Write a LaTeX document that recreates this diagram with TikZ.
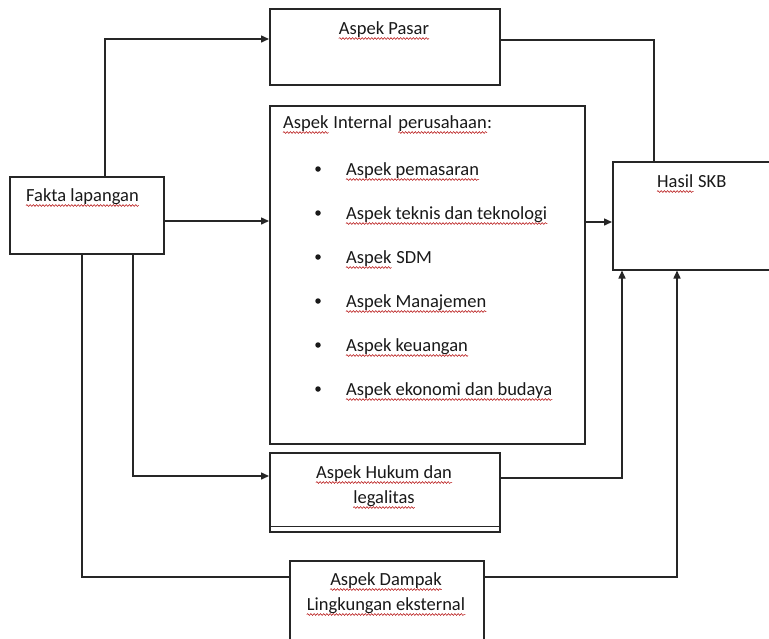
\documentclass[tikz,border=0pt]{standalone}
\usepackage{fontspec}
\setmainfont{Carlito}
\usetikzlibrary{arrows.meta,calc,decorations.pathmorphing}

\tikzset{
  box/.style={draw=black!85, line width=1.5pt, anchor=north west, inner sep=0pt},
  link/.style={draw=black!85, line width=1.5pt},
  arr/.style={link, -{Triangle[length=8pt,width=7pt]}},
  txt/.style={font=\fontsize{18.5}{22}\selectfont, text=black!90, inner sep=0pt},
  dot/.style={circle, fill=black!90, inner sep=0pt, minimum size=5.5pt},
  squig/.style={draw=red!70!black, line width=0.5pt,
    decorate, decoration={snake, segment length=3.2pt, amplitude=0.9pt}},
}
% wavy spelling underline below a text node
\newcommand\wavyunder[1]{\draw[squig] ($(#1.base west)+(0,4.5)$) -- ($(#1.base east)+(0,4.5)$);}

\begin{document}
\begin{tikzpicture}[x=1pt, y=-1pt]
\useasboundingbox[fill=white] (0,0) rectangle (769,638);

% boxes
\node[box, minimum width=154pt, minimum height=77pt] (fakta) at (9,176) {};
\node[box, minimum width=230pt, minimum height=76pt] (pasar) at (269,8) {};
\node[box, minimum width=315pt, minimum height=338pt] (internal) at (269,105) {};
\node[box, minimum width=175pt, minimum height=108pt] (hasil) at (612,161) {};
\node[box, minimum width=230pt, minimum height=79pt] (hukum) at (269,452) {};
\node[box, minimum width=194pt, minimum height=95pt] (dampak) at (289,560) {};
\draw[link, line width=1.1pt] ($(hukum.south west)+(0,-6)$) -- ($(hukum.south east)+(0,-6)$);

% texts
\node[txt, anchor=base west] (tfakta) at (26,201) {Fakta lapangan};
\node[txt, anchor=base] (tpasar) at (384,34) {Aspek Pasar};
\node[txt, anchor=base west] (thasil) at (657,187) {Hasil};
\node[txt, anchor=base west] (thasilb) at ($(thasil.base east)+(4.5,0)$) {SKB};
\node[txt, anchor=base west] (tinta) at (283,128) {Aspek};
\node[txt, anchor=base west] (tintb) at ($(tinta.base east)+(4.5,0)$) {Internal};
\node[txt, anchor=base west] (tintc) at ($(tintb.base east)+(6,0)$) {perusahaan};
\node[txt, anchor=base west] (tintd) at (tintc.base east) {:};

\node[txt, anchor=base west] (i1) at (346,175) {Aspek pemasaran};
\node[txt, anchor=base west] (i2) at (346,219) {Aspek teknis dan teknologi};
\node[txt, anchor=base west] (i3) at (346,263) {Aspek};
\node[txt, anchor=base west] (i3b) at ($(i3.base east)+(4.5,0)$) {SDM};
\node[txt, anchor=base west] (i4) at (346,307) {Aspek Manajemen};
\node[txt, anchor=base west] (i5) at (346,351) {Aspek keuangan};
\node[txt, anchor=base west] (i6) at (346,395) {Aspek ekonomi dan budaya};
\foreach \n in {1,...,6}{
  \node[dot] (b\n) at ($(i\n.base west)+(-28,-6)$) {};
}

\node[txt, anchor=base] (thuk1) at (384,478) {Aspek Hukum dan};
\node[txt, anchor=base] (thuk2) at (384,503) {legalitas};
\node[txt, anchor=base] (tdam1) at (386,585) {Aspek Dampak};
\node[txt, anchor=base] (tdam2) at (386,610) {Lingkungan eksternal};

% spelling marks
\foreach \t in {tfakta,tpasar,thasil,tinta,tintc,i1,i2,i3,i4,i5,i6,thuk1,thuk2,tdam1,tdam2}{
  \wavyunder{\t}
}

% connectors
\draw[arr] ($(fakta.north west)+(96,0)$) |- ($(pasar.north west)+(0,31)$);
\draw[arr] ($(fakta.north east)+(0,45)$) -- ($(internal.north west)+(0,116)$);
\draw[link] ($(fakta.south west)+(73,0)$) |- ($(dampak.north west)+(0,17)$);
\draw[arr] ($(dampak.north east)+(0,17)$) -| ($(hasil.south west)+(65,0)$);
\draw[arr] ($(fakta.south west)+(124,0)$) |- ($(hukum.north west)+(0,24)$);
\draw[arr] ($(hukum.north east)+(0,26)$) -| ($(hasil.south west)+(10,0)$);
\draw[link] ($(pasar.north east)+(0,32)$) -| ($(hasil.north west)+(42,0)$);
\draw[arr] ($(internal.north east)+(0,117)$) -- ($(hasil.north west)+(0,61)$);
\end{tikzpicture}
\end{document}
